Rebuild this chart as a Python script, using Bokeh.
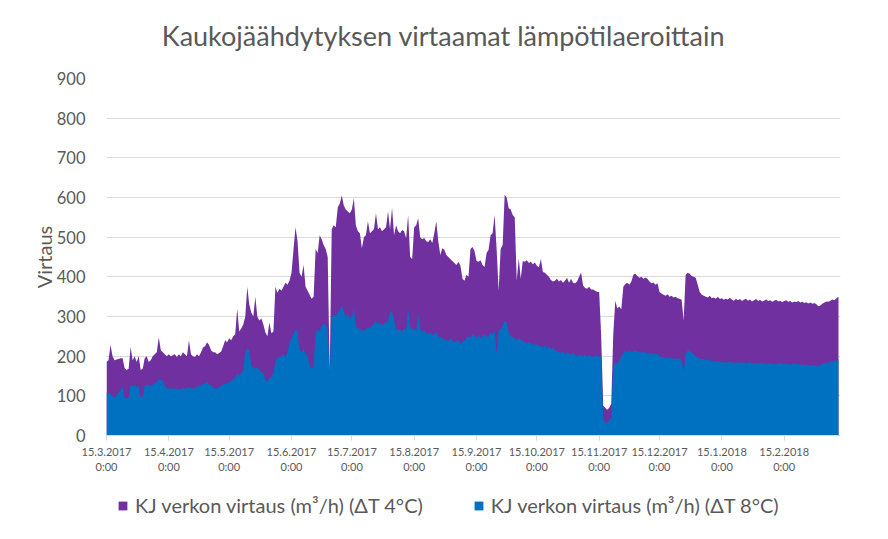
import numpy as np
from bokeh.plotting import figure
from bokeh.layouts import column
from bokeh.models import FixedTicker, Legend, LegendItem, Range1d, ColumnDataSource, Label
from bokeh.embed import file_html
from bokeh.resources import INLINE

nan = float("nan")

title_text = "Kaukojäähdytyksen virtaamat lämpötilaeroittain"
y_label = "Virtaus"
series_names = ["KJ verkon virtaus (m³/h) (ΔT 4°C)", "KJ verkon virtaus (m³/h) (ΔT 8°C)"]
tick_dates = ["15.3.2017", "15.4.2017", "15.5.2017", "15.6.2017", "15.7.2017", "15.8.2017",
              "15.9.2017", "15.10.2017", "15.11.2017", "15.12.2017", "15.1.2018", "15.2.2018"]
tick_days = [0, 31, 61, 92, 122, 153, 184, 214, 245, 275, 306, 337]
y_ticks = [0, 100, 200, 300, 400, 500, 600, 700, 800, 900]

# daily flow (m3/h), day 0 = 15.3.2017
flow_dt4 = [
    185, 190, 228, 200, 190, nan, nan, 195, 195, 170,
    165, 168, 223, 190, 200, 185, 200, 165, 168, 195,
    200, 185, 190, 200, 205, 210, 248, 215, 210, 205,
    200, 205, 200, 202, 205, 198, 205, 200, 210, 205,
    200, 240, 205, 200, 198, 205, 200, 210, 222, 225,
    235, 228, 215, 210, 210, 205, 208, 212, 225, 240,
    235, 245, 240, 250, 255, 320, 262, 270, 280, 300,
    375, 330, 310, 300, 350, 300, 290, 295, 280, 260,
    250, 285, 258, 262, 375, 360, 370, 365, 375, 385,
    380, 390, 410, 470, 525, 490, 410, 400, 430, 375,
    365, 355, 345, 350, 470, 460, 505, 495, 480, 470,
    450, 160, 520, 530, 525, 575, 585, 605, 580, 570,
    565, 560, 570, 598, 530, 515, 510, 472, 500, 505,
    540, 510, 515, 520, 560, 520, 525, 515, 520, 525,
    565, 520, 575, 505, 530, 515, 510, 518, 515, 497,
    556, 450, 445, 525, 530, 548, 500, 495, 498, 490,
    488, 495, 485, 510, 540, 490, 455, 472, 468, 455,
    450, 445, 440, 435, 430, 438, 428, 395, 390, 405,
    400, 470, 475, 465, 440, 438, 442, 430, 425, 460,
    468, 505, 510, 556, 470, 365, 470, 480, 607, 600,
    573, 570, 556, 550, 390, 447, 395, 440, 438, 442,
    435, 438, 432, 436, 428, 424, 445, 412, 410, 405,
    400, 392, 388, 390, 395, 388, 392, 385, 390, 398,
    385, 395, 385, 384, 388, 400, 411, 378, 372, 370,
    375, 368, 368, 365, 362, 362, 250, 75, 70, 65,
    70, 80, 255, 340, 320, 325, 318, 375, 382, 385,
    380, 388, 405, 408, 402, 398, 400, 395, 398, 395,
    388, 384, 386, 380, 384, 362, 358, 355, 352, 356,
    350, 352, 348, 350, 346, 345, 342, 290, 405, 410,
    408, 402, 400, 398, 380, 362, 355, 352, 350, 348,
    352, 346, 348, 345, 350, 344, 346, 342, 345, 343,
    347, 342, 340, 345, 341, 344, 339, 342, 345, 340,
    343, 338, 341, 344, 339, 342, 338, 340, 343, 339,
    341, 337, 340, 342, 338, 340, 336, 339, 341, 337,
    339, 335, 338, 336, 339, 335, 337, 334, 336, 333,
    335, 332, 334, 331, 326, 328, 332, 335, 338, 337,
    340, 343, 341, 346, 350,
]
flow_dt8 = [
    108, 107, 105, 98, 95, nan, nan, 115, 123, 95,
    93, 95, 128, 125, 127, 122, 125, 95, 98, 125,
    128, 126, 124, 128, 132, 135, 142, 140, 138, 125,
    120, 118, 120, 117, 120, 118, 115, 118, 120, 117,
    119, 122, 120, 118, 120, 122, 125, 128, 130, 132,
    135, 130, 125, 122, 120, 118, 122, 125, 128, 130,
    132, 135, 138, 140, 148, 155, 150, 158, 165, 210,
    220, 215, 175, 170, 168, 172, 165, 160, 158, 140,
    136, 145, 150, 155, 190, 195, 198, 200, 205, 198,
    210, 235, 245, 255, 270, 262, 215, 210, 220, 205,
    200, 175, 170, 172, 260, 268, 262, 278, 282, 278,
    270, 150, 295, 305, 300, 310, 315, 330, 310, 300,
    305, 295, 300, 320, 275, 268, 272, 262, 265, 268,
    275, 270, 278, 282, 290, 280, 285, 278, 282, 285,
    290, 312, 310, 290, 270, 265, 268, 262, 270, 265,
    320, 275, 268, 270, 262, 304, 268, 262, 265, 258,
    255, 260, 252, 255, 262, 250, 248, 245, 242, 240,
    238, 245, 240, 235, 238, 240, 232, 236, 240, 245,
    250, 245, 255, 250, 248, 252, 245, 250, 255, 248,
    252, 260, 255, 265, 205, 265, 270, 275, 290, 285,
    260, 250, 248, 245, 240, 245, 242, 238, 235, 232,
    235, 230, 232, 228, 230, 226, 225, 222, 228, 220,
    225, 218, 222, 215, 212, 210, 208, 212, 205, 210,
    206, 204, 208, 203, 200, 205, 202, 200, 204, 198,
    202, 200, 198, 202, 200, 198, 200, 40, 35, 30,
    38, 45, 170, 185, 180, 190, 200, 208, 212, 210,
    214, 210, 212, 215, 210, 212, 208, 212, 210, 206,
    210, 205, 208, 204, 206, 200, 198, 197, 195, 198,
    194, 196, 193, 195, 192, 195, 190, 160, 205, 215,
    212, 210, 205, 200, 196, 194, 192, 193, 190, 192,
    190, 188, 186, 189, 185, 187, 184, 186, 183, 185,
    187, 184, 182, 185, 183, 186, 182, 184, 181, 183,
    185, 182, 180, 183, 181, 184, 180, 182, 179, 181,
    183, 180, 182, 179, 181, 183, 180, 182, 179, 181,
    178, 180, 182, 179, 181, 178, 180, 177, 179, 176,
    178, 176, 175, 177, 174, 178, 180, 182, 184, 183,
    186, 188, 187, 190, 192,
]
days = list(range(len(flow_dt4)))

PURPLE = "#7030A0"
BLUE = "#0070C0"
TEXT = "#595959"
GRID = "#d9d9d9"
FONT = "Lato"


def strip(h):
    f = figure(width=872, height=h, output_backend="svg", toolbar_location=None,
               title=None, x_range=Range1d(0, 734), y_range=Range1d(0, h),
               min_border_left=0, min_border_right=0, min_border_top=0, min_border_bottom=0)
    f.axis.visible = False
    f.grid.visible = False
    f.outline_line_color = None
    return f


# title strip
tf = strip(60)
tf.add_layout(Label(x=337, y=25, text=title_text, text_align="center", text_baseline="middle",
                    text_font=FONT, text_font_size="27px", text_color=TEXT))

src = ColumnDataSource(dict(day=np.array(days, dtype=float),
                            dt4=np.array(flow_dt4, dtype=float),
                            dt8=np.array(flow_dt8, dtype=float),
                            zero=np.zeros(len(days))))

p = figure(frame_width=734, frame_height=357, output_backend="svg", toolbar_location=None,
           title=None, x_range=Range1d(0, 365), y_range=Range1d(0, 900),
           min_border_left=106, min_border_right=32, min_border_top=18, min_border_bottom=45)

r1 = p.varea(x="day", y1="zero", y2="dt4", source=src, fill_color=PURPLE)
r2 = p.varea(x="day", y1="zero", y2="dt8", source=src, fill_color=BLUE)

p.outline_line_color = None
p.xgrid.grid_line_color = None
p.ygrid.grid_line_color = GRID
p.ygrid.ticker = FixedTicker(ticks=y_ticks)

p.yaxis.ticker = FixedTicker(ticks=y_ticks)
p.yaxis.axis_line_color = None
p.yaxis.major_tick_line_color = None
p.yaxis.minor_tick_line_color = None
p.yaxis.major_label_text_font = FONT
p.yaxis.major_label_text_font_size = "16.5px"
p.yaxis.major_label_text_color = TEXT
p.yaxis.major_label_standoff = 15
p.yaxis.axis_label = y_label
p.yaxis.axis_label_text_font = FONT
p.yaxis.axis_label_text_font_size = "20px"
p.yaxis.axis_label_text_font_style = "normal"
p.yaxis.axis_label_text_color = TEXT
p.yaxis.axis_label_standoff = -2

p.xaxis.ticker = FixedTicker(ticks=tick_days)
p.xaxis.major_label_overrides = {d: s + "\n0:00" for d, s in zip(tick_days, tick_dates)}
p.xaxis.axis_line_color = GRID
p.xaxis.major_tick_line_color = GRID
p.xaxis.major_tick_out = 5
p.xaxis.major_tick_in = 0
p.xaxis.minor_tick_line_color = None
p.xaxis.major_label_text_font = FONT
p.xaxis.major_label_text_font_size = "11px"
p.xaxis.major_label_text_color = TEXT
p.xaxis.major_label_standoff = 4

# legend strip below the chart (swatch renderers sit outside the visible range)
lg = strip(43)
k1 = lg.varea(x=[-20, -10], y1=[-20, -20], y2=[-10, -10], fill_color=PURPLE)
k2 = lg.varea(x=[-20, -10], y1=[-20, -20], y2=[-10, -10], fill_color=BLUE)
legend = Legend(items=[LegendItem(label=series_names[0], renderers=[k1]),
                       LegendItem(label=series_names[1], renderers=[k2])],
                orientation="horizontal", location=(11, 6),
                glyph_width=11, glyph_height=11, label_standoff=7, spacing=50,
                padding=0, margin=0, border_line_color=None, background_fill_color=None,
                label_text_font=FONT, label_text_font_size="20px", label_text_color=TEXT)
lg.add_layout(legend, "center")

layout = column(tf, p, lg, spacing=0)
open("out.html", "w").write(file_html(layout, INLINE))
